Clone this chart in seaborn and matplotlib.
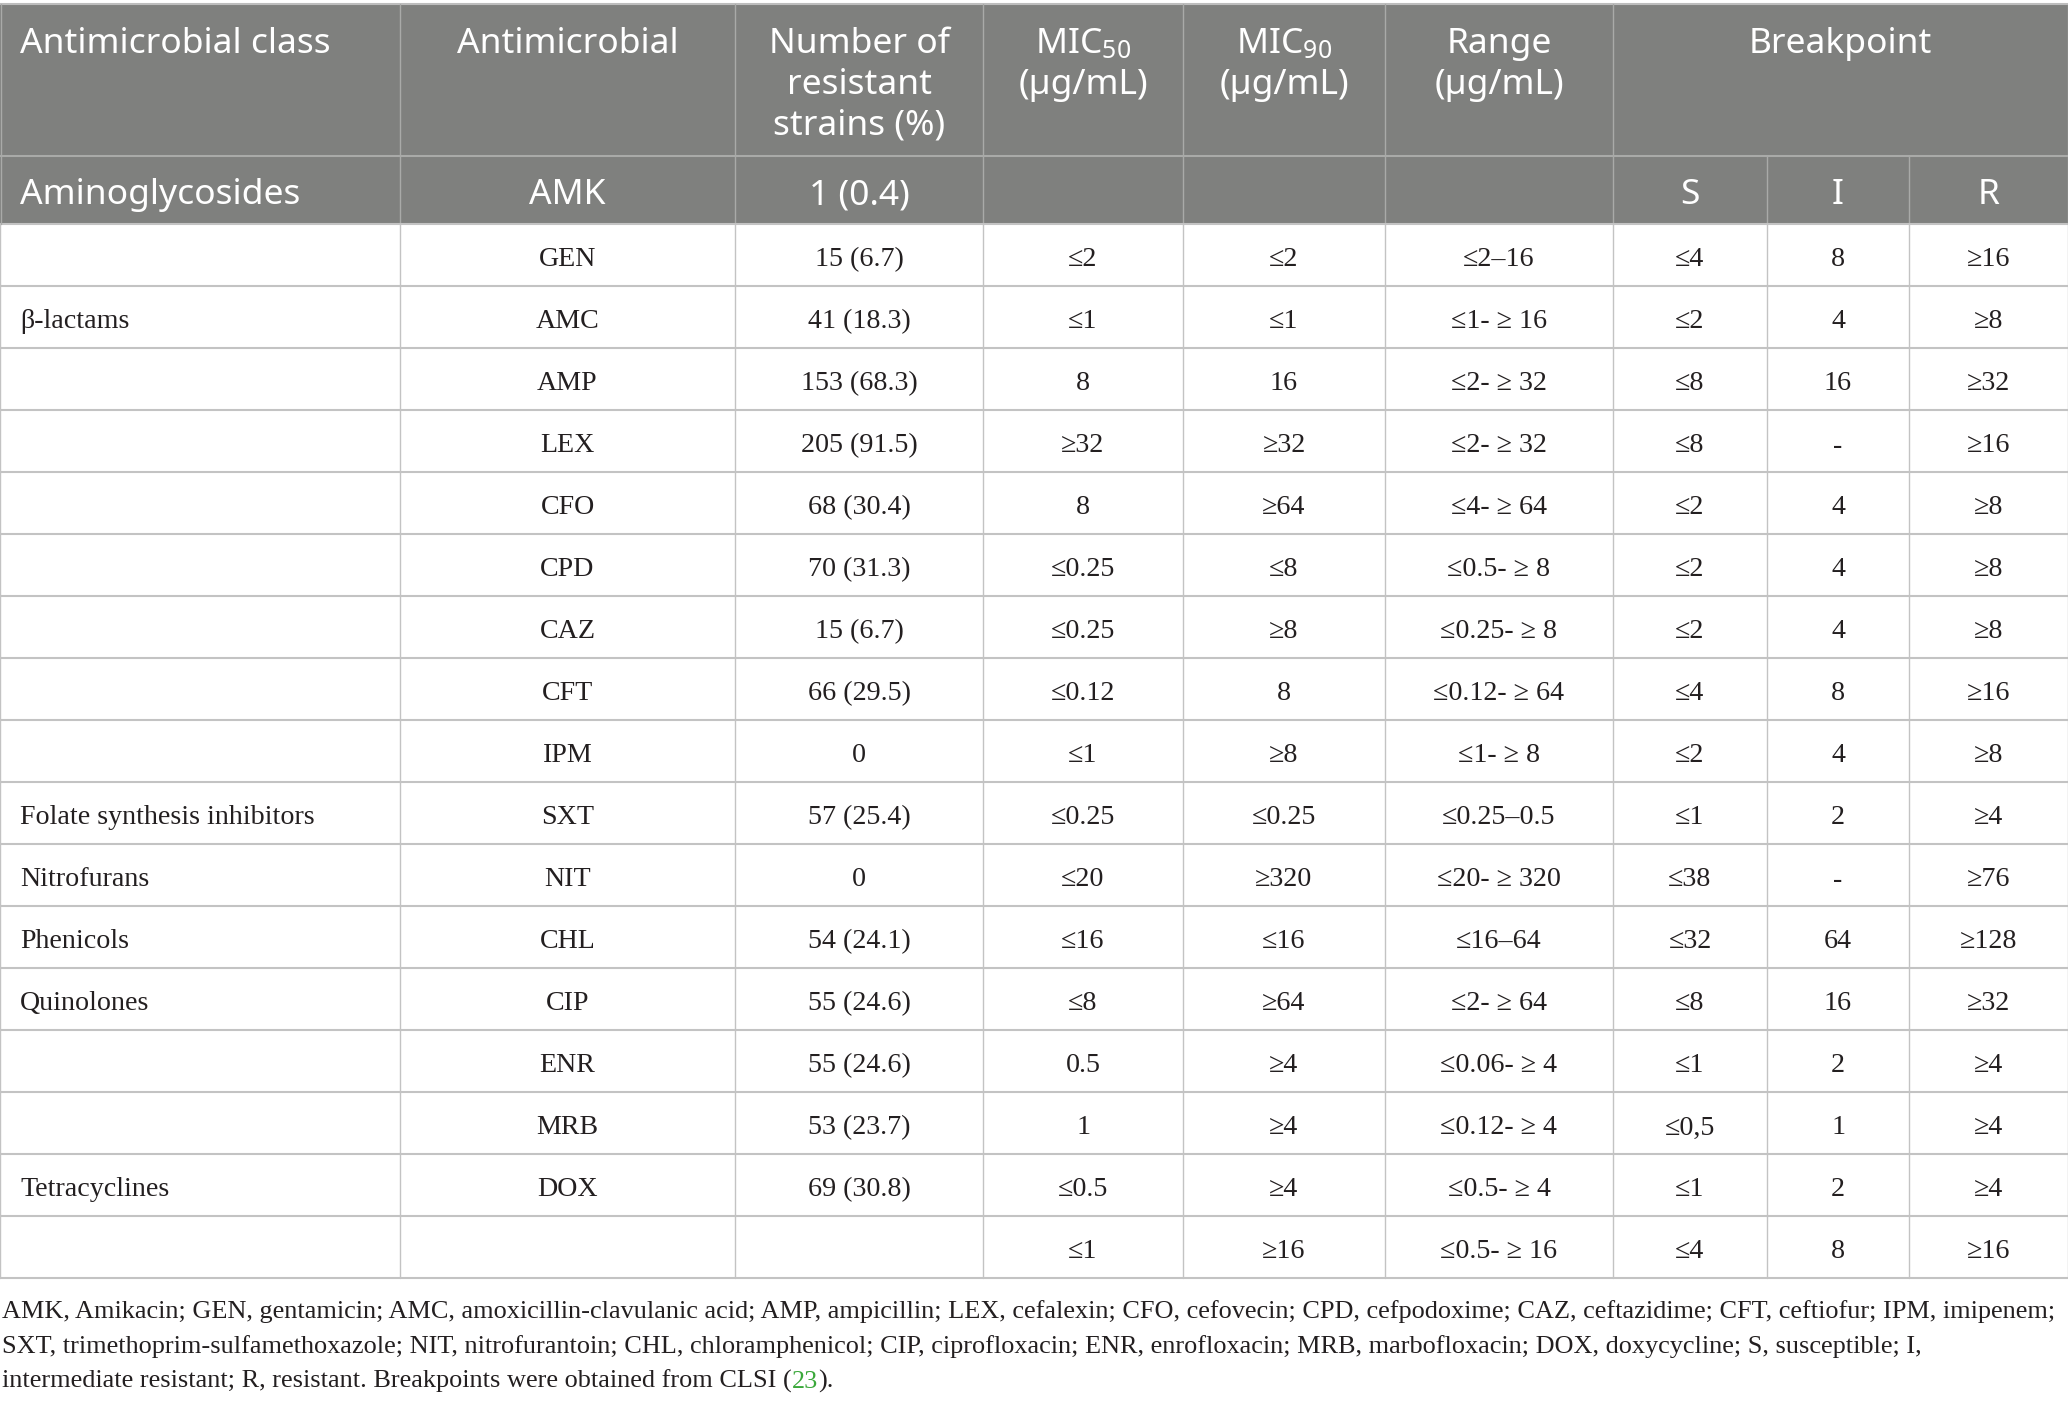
import matplotlib
matplotlib.use("Agg")
import matplotlib.pyplot as plt
import seaborn as sns

# table content
classes = ["", "β-lactams", "", "", "", "", "", "", "", "Folate synthesis inhibitors",
           "Nitrofurans", "Phenicols", "Quinolones", "", "", "Tetracyclines", ""]
drugs = ["GEN", "AMC", "AMP", "LEX", "CFO", "CPD", "CAZ", "CFT", "IPM", "SXT",
         "NIT", "CHL", "CIP", "ENR", "MRB", "DOX", ""]
resistant = ["15 (6.7)", "41 (18.3)", "153 (68.3)", "205 (91.5)", "68 (30.4)", "70 (31.3)",
             "15 (6.7)", "66 (29.5)", "0", "57 (25.4)", "0", "54 (24.1)", "55 (24.6)",
             "55 (24.6)", "53 (23.7)", "69 (30.8)", ""]
mic50 = ["≤2", "≤1", "8", "≥32", "8", "≤0.25", "≤0.25", "≤0.12", "≤1", "≤0.25", "≤20",
         "≤16", "≤8", "0.5", "1", "≤0.5", "≤1"]
mic90 = ["≤2", "≤1", "16", "≥32", "≥64", "≤8", "≥8", "8", "≥8", "≤0.25", "≥320",
         "≤16", "≥64", "≥4", "≥4", "≥4", "≥16"]
ranges = ["≤2–16", "≤1- ≥ 16", "≤2- ≥ 32", "≤2- ≥ 32", "≤4- ≥ 64", "≤0.5- ≥ 8",
          "≤0.25- ≥ 8", "≤0.12- ≥ 64", "≤1- ≥ 8", "≤0.25–0.5", "≤20- ≥ 320", "≤16–64",
          "≤2- ≥ 64", "≤0.06- ≥ 4", "≤0.12- ≥ 4", "≤0.5- ≥ 4", "≤0.5- ≥ 16"]
bp_s = ["≤4", "≤2", "≤8", "≤8", "≤2", "≤2", "≤2", "≤4", "≤2", "≤1", "≤38", "≤32",
        "≤8", "≤1", "≤0,5", "≤1", "≤4"]
bp_i = ["8", "4", "16", "-", "4", "4", "4", "8", "4", "2", "-", "64", "16", "2", "1",
        "2", "8"]
bp_r = ["≥16", "≥8", "≥32", "≥16", "≥8", "≥8", "≥8", "≥16", "≥8", "≥4", "≥76", "≥128",
        "≥32", "≥4", "≥4", "≥4", "≥16"]

header = ["Antimicrobial class", "Antimicrobial", "Number of\nresistant\nstrains (%)",
          "MIC$_{50}$\n(µg/mL)", "MIC$_{90}$\n(µg/mL)", "Range\n(µg/mL)", "Breakpoint"]
sub_row = ["Aminoglycosides", "AMK", "1 (0.4)", "", "", "", "S", "I", "R"]

footnote = [
    "AMK, Amikacin; GEN, gentamicin; AMC, amoxicillin-clavulanic acid; AMP, ampicillin; LEX, cefalexin; "
    "CFO, cefovecin; CPD, cefpodoxime; CAZ, ceftazidime; CFT, ceftiofur; IPM, imipenem;",
    "SXT, trimethoprim-sulfamethoxazole; NIT, nitrofurantoin; CHL, chloramphenicol; CIP, ciprofloxacin; "
    "ENR, enrofloxacin; MRB, marbofloxacin; DOX, doxycycline; S, susceptible; I,",
    "intermediate resistant; R, resistant. Breakpoints were obtained from CLSI (",
]
ref_num = "23"

sns.set_theme(style="white")
plt.rcParams["mathtext.fontset"] = "custom"
plt.rcParams["mathtext.rm"] = "Noto Sans"
plt.rcParams["mathtext.default"] = "regular"

SANS = ["Noto Sans", "DejaVu Sans"]
SERIF = ["Liberation Serif", "DejaVu Serif"]
W, H = 2068, 1406
col_edges = [0, 400, 735, 983, 1183, 1385, 1613, 1767, 1909, W]
head_top, head_bot, sub_bot = 4, 156, 224
row_h = 62
n_rows = len(drugs)
table_bot = sub_bot + row_h * n_rows

HEAD_BG = "#7f807e"
HEAD_LINE = "#a9aaa8"
BODY_LINE = "#c3c3c3"
INK = "#231f20"

fig = plt.figure(figsize=(W / 100, H / 100), dpi=100)
ax = fig.add_axes([0, 0, 1, 1])
ax.set_xlim(0, W)
ax.set_ylim(H, 0)
ax.axis("off")

# header background
ax.fill_between([0, W], head_top, sub_bot, color=HEAD_BG, lw=0, zorder=0)
ax.plot([0, W], [head_top, head_top], color="#bdbdbd", lw=1.5, zorder=2)

# header vertical lines
for i, x in enumerate(col_edges[1:-1], start=1):
    y0 = head_top if i <= 6 else head_bot
    ax.plot([x, x], [y0, sub_bot], color=HEAD_LINE, lw=1, zorder=2)
ax.plot([0, W], [head_bot, head_bot], color=HEAD_LINE, lw=1.5, zorder=2)

# body grid
for r in range(n_rows + 1):
    y = sub_bot + r * row_h
    ax.plot([0, W], [y, y], color=BODY_LINE, lw=1.5, zorder=2)
for x in col_edges:
    ax.plot([x, x], [sub_bot, table_bot], color=BODY_LINE, lw=1, zorder=2)
ax.plot([0.5, 0.5], [head_top, sub_bot], color=HEAD_LINE, lw=1, zorder=2)
ax.plot([W - 0.5, W - 0.5], [head_top, sub_bot], color=HEAD_LINE, lw=1, zorder=2)


def centre(c):
    return (col_edges[c] + col_edges[c + 1]) / 2


# header text
HS = 25.5
for c, label in enumerate(header):
    if c == 0:
        x, ha = 20, "left"
    elif c == 6:
        x, ha = (col_edges[6] + col_edges[9]) / 2, "center"
    else:
        x, ha = centre(c), "center"
    for k, line in enumerate(label.split("\n")):
        ax.text(x, 53 + 41 * k, line, ha=ha, va="baseline", color="white",
                fontsize=HS, family=SANS)

for c, label in enumerate(sub_row):
    if not label:
        continue
    x, ha = (20, "left") if c == 0 else (centre(c), "center")
    ax.text(x, 204, label, ha=ha, va="baseline", color="white", fontsize=HS, family=SANS)

# body text
BS = 20.2
columns = [classes, drugs, resistant, mic50, mic90, ranges, bp_s, bp_i, bp_r]
for c, values in enumerate(columns):
    for r, val in enumerate(values):
        if not val:
            continue
        y = sub_bot + r * row_h + 42.5
        x, ha = (20, "left") if c == 0 else (centre(c), "center")
        ax.text(x, y, val, ha=ha, va="baseline", color=INK, fontsize=BS, family=SERIF)

# footnote
FS = 18.9
foot_y = [1318, 1353, 1388]
last = None
for k, line in enumerate(footnote):
    last = ax.text(2, foot_y[k], line, ha="left", va="baseline", color=INK,
                   fontsize=FS, family=SERIF)

renderer = fig.canvas.get_renderer()
bb = last.get_window_extent(renderer)
inv = ax.transData.inverted()
x_end = inv.transform((bb.x1, bb.y0))[0]
t2 = ax.text(x_end, foot_y[2], ref_num, ha="left", va="baseline", color="#3aa83a",
             fontsize=FS, family=SERIF)
bb2 = t2.get_window_extent(renderer)
x_end2 = inv.transform((bb2.x1, bb2.y0))[0]
ax.text(x_end2, foot_y[2], ").", ha="left", va="baseline", color=INK,
        fontsize=FS, family=SERIF)

fig.savefig("out.png", dpi=100)
